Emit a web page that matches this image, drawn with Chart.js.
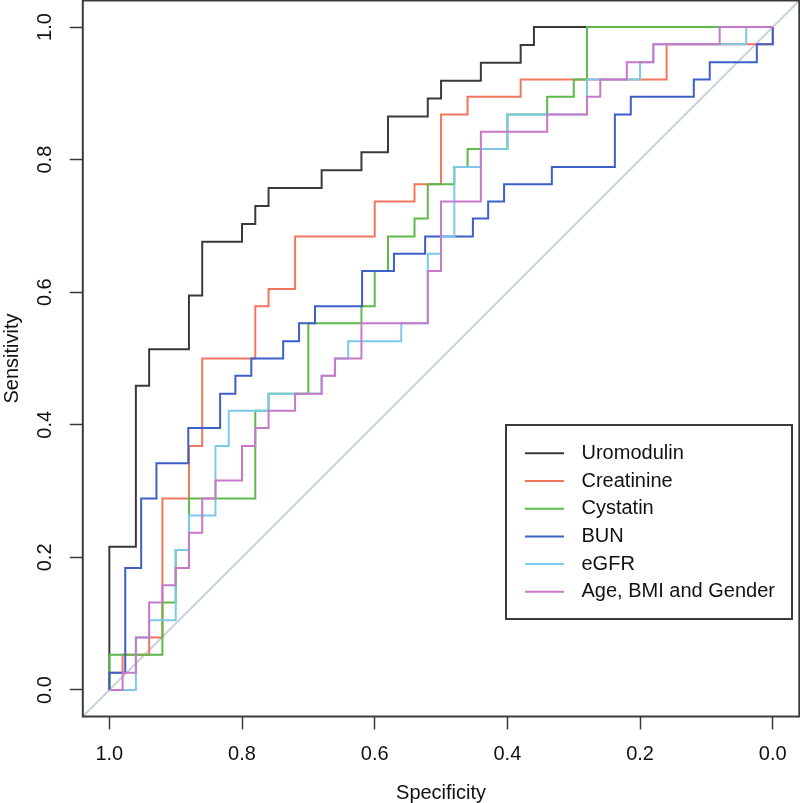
<!DOCTYPE html>
<html><head><meta charset="utf-8">
<script src="https://cdn.jsdelivr.net/npm/chart.js@4/dist/chart.umd.min.js"></script>
<style>html,body{margin:0;padding:0;background:#fff;}canvas{display:block}</style>
</head><body>
<canvas id="c" width="800" height="803"></canvas>
<script>
const seriesNames = ['Uromodulin','Creatinine','Cystatin','BUN','eGFR','Age, BMI and Gender'];
const seriesColors = ['#3a3a3a','#f2765e','#5cb94a','#3c5fc8','#7cc9e9','#c878c8'];

const uromodulinSpec = [1,1,.96,.96,.94,.94,.88,.88,.86,.86,.80,.80,.78,.78,.76,.76,.68,.68,.62,.62,.58,.58,.52,.52,.50,.50,.44,.44,.38,.38,.36,.36,0];
const uromodulinSens = [0,.216,.216,.459,.459,.514,.514,.595,.595,.676,.676,.703,.703,.730,.730,.757,.757,.784,.784,.811,.811,.865,.865,.892,.892,.919,.919,.946,.946,.973,.973,1,1];

const creatinineSpec = [1,1,.98,.98,.94,.94,.92,.92,.88,.88,.86,.86,.78,.78,.76,.76,.72,.72,.60,.60,.54,.54,.50,.50,.46,.46,.38,.38,.16,.16,0,0];
const creatinineSens = [0,.026,.026,.053,.053,.079,.079,.289,.289,.368,.368,.5,.5,.579,.579,.605,.605,.684,.684,.737,.737,.763,.763,.868,.868,.895,.895,.921,.921,.974,.974,1];

const cystatinSpec = [1,1,.92,.92,.90,.90,.88,.88,.78,.78,.76,.76,.70,.70,.62,.62,.60,.60,.58,.58,.54,.54,.52,.52,.48,.48,.46,.46,.40,.40,.34,.34,.30,.30,.28,.28,0];
const cystatinSens = [0,.053,.053,.132,.132,.211,.211,.289,.289,.421,.421,.447,.447,.553,.553,.579,.579,.632,.632,.684,.684,.711,.711,.763,.763,.789,.789,.816,.816,.868,.868,.895,.895,.921,.921,1,1];

const bunSpec = [1,1,.976,.976,.952,.952,.929,.929,.881,.881,.833,.833,.810,.810,.786,.786,.738,.738,.714,.714,.690,.690,.619,.619,.571,.571,.524,.524,.452,.452,.429,.429,.405,.405,.333,.333,.238,.238,.214,.214,.119,.119,.095,.095,.024,.024,0,0];
const bunSens = [0,.026,.026,.184,.184,.289,.289,.342,.342,.395,.395,.447,.447,.474,.474,.5,.5,.526,.526,.553,.553,.579,.579,.632,.632,.658,.658,.684,.684,.711,.711,.737,.737,.763,.763,.789,.789,.868,.868,.895,.895,.921,.921,.947,.947,.974,.974,1];

const egfrSpec = [1,.96,.96,.94,.94,.90,.90,.88,.88,.84,.84,.82,.82,.76,.76,.68,.68,.66,.66,.64,.64,.56,.56,.52,.52,.50,.50,.48,.48,.44,.44,.40,.40,.28,.28,.20,.20,.18,.18,.04,.04,0];
const egfrSens = [0,0,.079,.079,.105,.105,.211,.211,.263,.263,.368,.368,.421,.421,.447,.447,.474,.474,.5,.5,.526,.526,.553,.553,.658,.658,.684,.684,.789,.789,.816,.816,.868,.868,.921,.921,.947,.947,.974,.974,1,1];

const ageSpec = [1,.98,.98,.96,.96,.94,.94,.92,.92,.90,.90,.88,.88,.86,.86,.84,.84,.80,.80,.78,.78,.76,.76,.72,.72,.68,.68,.66,.66,.62,.62,.52,.52,.50,.50,.44,.44,.34,.34,.28,.28,.26,.26,.22,.22,.18,.18,.08,.08,0];
const ageSens = [0,0,.026,.026,.079,.079,.132,.132,.158,.158,.184,.184,.237,.237,.289,.289,.316,.316,.368,.368,.395,.395,.421,.421,.447,.447,.474,.474,.5,.5,.553,.553,.632,.632,.737,.737,.842,.842,.868,.868,.895,.895,.921,.921,.947,.947,.974,.974,1,1];

const diagonalSpec = [1.04,-0.04];
const diagonalSens = [-0.04,1.04];

const xTickValues = [0,0.2,0.4,0.6,0.8,1];
const xTickLabels = ['0.0','0.2','0.4','0.6','0.8','1.0'];
const yTickValues = [0,0.2,0.4,0.6,0.8,1];
const yTickLabels = ['0.0','0.2','0.4','0.6','0.8','1.0'];

const specs = [uromodulinSpec,creatinineSpec,cystatinSpec,bunSpec,egfrSpec,ageSpec];
const sens = [uromodulinSens,creatinineSens,cystatinSens,bunSens,egfrSens,ageSens];
const pts = (xs, ys) => xs.map((x,i)=>({x:x,y:ys[i]}));

const FONT = 'Liberation Sans, Arial, Helvetica, sans-serif';
const TEXT = '#111';
const datasets = seriesNames.map((n,i)=>({
  label:n, data:pts(specs[i],sens[i]), borderColor:seriesColors[i], backgroundColor:seriesColors[i],
  borderWidth:2, pointRadius:0, showLine:true, tension:0, fill:false, order:-i
}));
datasets.push({label:'diag', data:pts(diagonalSpec,diagonalSens), borderColor:'#c2d0d7', borderWidth:1.8,
  pointRadius:0, showLine:true, fill:false, order:10});

const framePlugin = {
  id:'frame',
  beforeDraw(chart){
    const c=chart.ctx; c.save(); c.fillStyle='#fff'; c.fillRect(0,0,chart.width,chart.height); c.restore();
  },
  afterDatasetsDraw(chart){
    const c=chart.ctx, a=chart.chartArea;
    c.save();
    c.strokeStyle='#3a3a3a'; c.lineWidth=2;
    c.strokeRect(a.left,a.top,a.right-a.left,a.bottom-a.top);
    const L=506,T=425,R=792,B=619;
    c.fillStyle='#fff'; c.fillRect(L,T,R-L,B-T);
    c.strokeRect(L,T,R-L,B-T);
    c.font='20px '+FONT; c.textBaseline='middle'; c.textAlign='left';
    seriesNames.forEach((n,i)=>{
      const y=453.3+27.7*i;
      c.strokeStyle=seriesColors[i]; c.lineWidth=2;
      c.beginPath(); c.moveTo(525,y); c.lineTo(564,y); c.stroke();
      c.fillStyle=TEXT; c.fillText(n,581.5,y);
    });
    c.restore();
  }
};

new Chart(document.getElementById('c'),{
  type:'scatter',
  data:{datasets:datasets},
  plugins:[framePlugin],
  options:{
    responsive:false, animation:false, devicePixelRatio:1,
    layout:{padding:{top:0.5,right:0.7,left:0,bottom:0}},
    plugins:{legend:{display:false},tooltip:{enabled:false}},
    scales:{
      x:{type:'linear',position:'bottom',min:-0.04,max:1.04,reverse:true,
        afterBuildTicks:s=>{s.ticks=xTickValues.map(v=>({value:v}));},
        afterFit:s=>{s.height=86.5;s.paddingLeft=0;s.paddingRight=0;},
        ticks:{callback:(v,i)=>xTickLabels[i],font:{family:FONT,size:20,lineHeight:1},color:TEXT,padding:14.5,maxRotation:0,minRotation:0,autoSkip:false},
        grid:{display:true,drawOnChartArea:false,drawTicks:true,tickLength:13,tickColor:'#3a3a3a',tickWidth:1.5},
        border:{display:false},
        title:{display:true,text:'Specificity',font:{family:FONT,size:20,lineHeight:1},color:TEXT,padding:{top:0,bottom:0}}
      },
      y:{type:'linear',position:'left',min:-0.04,max:1.04,
        afterBuildTicks:s=>{s.ticks=yTickValues.map(v=>({value:v}));},
        afterFit:s=>{s.width=82.8;s.paddingTop=0;s.paddingBottom=0;},
        ticks:{callback:(v,i)=>yTickLabels[i],font:{family:FONT,size:20,lineHeight:1},color:TEXT,padding:10,minRotation:90,maxRotation:90,crossAlign:'center',autoSkip:false},
        grid:{display:true,drawOnChartArea:false,drawTicks:true,tickLength:13,tickColor:'#3a3a3a',tickWidth:1.5},
        border:{display:false},
        title:{display:true,text:'Sensitivity',font:{family:FONT,size:20,lineHeight:1},color:TEXT,padding:{top:2,bottom:0}}
      }
    }
  }
});
</script>
</body></html>
